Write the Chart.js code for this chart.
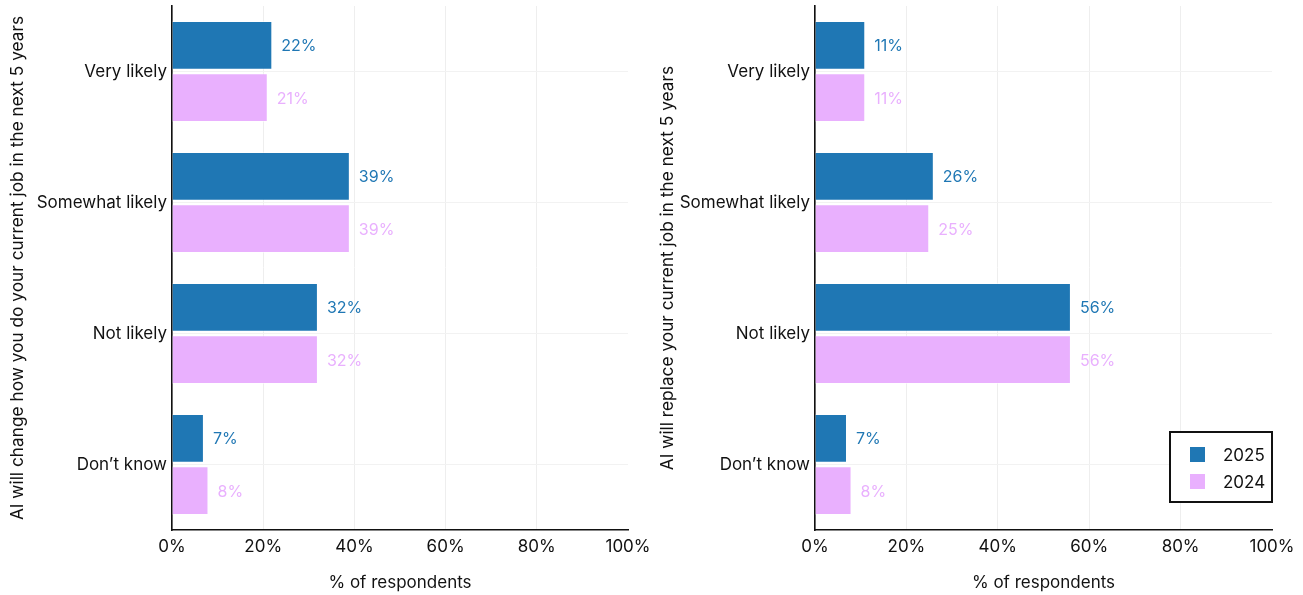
<!DOCTYPE html>
<html>
<head>
<meta charset="utf-8">
<script src="https://cdn.jsdelivr.net/npm/chart.js@4/dist/chart.umd.min.js"></script>
<style>
  html, body { margin: 0; padding: 0; background: #ffffff; }
  #wrap { position: relative; width: 1303px; height: 595px; }
  .box { position: absolute; top: 0; height: 595px; }
  #boxA { left: 0; width: 650px; }
  #boxB { left: 650px; width: 653px; }
</style>
</head>
<body>
<div id="wrap">
  <div class="box" id="boxA"><canvas id="chartA"></canvas></div>
  <div class="box" id="boxB"><canvas id="chartB"></canvas></div>
</div>
<script>
// Answer categories (shared by both panels)
const categories = ["Very likely", "Somewhat likely", "Not likely", "Don\u2019t know"];
const seriesNames = ["2025", "2024"];

// Panel A: AI will change how you do your current job
const changeJob2025 = [22, 39, 32, 7];
const changeJob2024 = [21, 39, 32, 8];

// Panel B: AI will replace your current job
const replaceJob2025 = [11, 26, 56, 7];
const replaceJob2024 = [11, 25, 56, 8];

// x-axis ticks (percent)
const xTicks = [0, 20, 40, 60, 80, 100];

const BLUE = "#1f77b4";
const PINK = "#e9b0fe";
const FONT = "Inter, 'DejaVu Sans', sans-serif";

Chart.defaults.font.family = FONT;
Chart.defaults.color = "#111111";

// Value labels printed just past the end of each bar
const valueLabels = {
  id: "valueLabels",
  afterDatasetsDraw(chart) {
    const ctx = chart.ctx;
    ctx.save();
    ctx.font = "16px " + FONT;
    ctx.textBaseline = "middle";
    ctx.textAlign = "left";
    chart.data.datasets.forEach((ds, i) => {
      const meta = chart.getDatasetMeta(i);
      meta.data.forEach((bar, j) => {
        ctx.fillStyle = ds.backgroundColor;
        ctx.fillText(ds.data[j] + "%", bar.x + 9, bar.y + 1);
      });
    });
    ctx.restore();
  }
};

// Boxed legend in the lower-right corner of the plot area
const boxedLegend = {
  id: "boxedLegend",
  afterDraw(chart, args, opts) {
    if (!opts.show) return;
    const ctx = chart.ctx;
    const area = chart.chartArea;
    const w = 102, h = 70;
    const x0 = area.right - w, y0 = area.bottom - 28 - h;
    ctx.save();
    ctx.fillStyle = "#ffffff";
    ctx.fillRect(x0, y0, w, h);
    ctx.strokeStyle = "#111111";
    ctx.lineWidth = 2;
    ctx.strokeRect(x0, y0, w, h);
    ctx.font = "17px " + FONT;
    ctx.textBaseline = "middle";
    ctx.textAlign = "left";
    chart.data.datasets.forEach((ds, i) => {
      const cy = y0 + 23 + i * 27;
      ctx.fillStyle = ds.backgroundColor;
      ctx.fillRect(x0 + 20, cy - 8, 15, 15);
      ctx.fillStyle = "#111111";
      ctx.fillText(ds.label, x0 + 53, cy + 1);
    });
    ctx.restore();
  }
};

function makeChart(canvasId, yTitle, d2025, d2024, yWidth, padRight, showLegend) {
  return new Chart(document.getElementById(canvasId), {
    type: "bar",
    data: {
      labels: categories,
      datasets: [
        { label: seriesNames[0], data: d2025, backgroundColor: BLUE,
          borderColor: "rgba(255,255,255,0.55)", borderWidth: 1,
          categoryPercentage: 0.8, barPercentage: 0.93 },
        { label: seriesNames[1], data: d2024, backgroundColor: PINK,
          borderColor: "rgba(255,255,255,0.55)", borderWidth: 1,
          categoryPercentage: 0.8, barPercentage: 0.93 }
      ]
    },
    options: {
      indexAxis: "y",
      responsive: true,
      maintainAspectRatio: false,
      animation: false,
      layout: { padding: { top: 6, right: padRight, bottom: 0, left: 0 } },
      plugins: {
        legend: { display: false },
        tooltip: { enabled: false },
        boxedLegend: { show: showLegend }
      },
      scales: {
        x: {
          type: "linear",
          min: 0, max: 100,
          afterBuildTicks(scale) { scale.ticks = xTicks.map(v => ({ value: v })); },
          afterFit(scale) {
            scale.height = 65;
            scale.paddingLeft = 0;
            scale.paddingRight = 0;
          },
          ticks: {
            font: { size: 17 },
            color: "#111111",
            padding: 7,
            maxRotation: 0,
            callback: v => v + "%"
          },
          grid: {
            color: c => (c.tick && c.tick.value === 100) ? "rgba(0,0,0,0)" : "#eeeeee",
            lineWidth: 1, drawTicks: false
          },
          border: { display: true, color: "#111111", width: 1.6 },
          title: {
            display: true, text: "% of respondents",
            font: { size: 17 }, color: "#111111",
            padding: { top: 0, bottom: 2 }
          }
        },
        y: {
          afterFit(scale) {
            scale.width = yWidth;
            scale.paddingTop = 0;
            scale.paddingBottom = 0;
          },
          ticks: { font: { size: 17 }, color: "#111111", padding: 5 },
          grid: { offset: false, color: "#f2f2f2", lineWidth: 1, drawTicks: false },
          border: { display: true, color: "#111111", width: 1.6 },
          title: {
            display: true, text: yTitle,
            font: { size: 17.3 }, color: "#111111",
            padding: { top: 7, bottom: 8 }
          }
        }
      }
    },
    plugins: [valueLabels, boxedLegend]
  });
}

makeChart("chartA", "AI will change how you do your current job in the next 5 years",
  changeJob2025, changeJob2024, 172, 22, false);
makeChart("chartB", "AI will replace your current job in the next 5 years",
  replaceJob2025, replaceJob2024, 165, 31, true);
</script>
</body>
</html>
